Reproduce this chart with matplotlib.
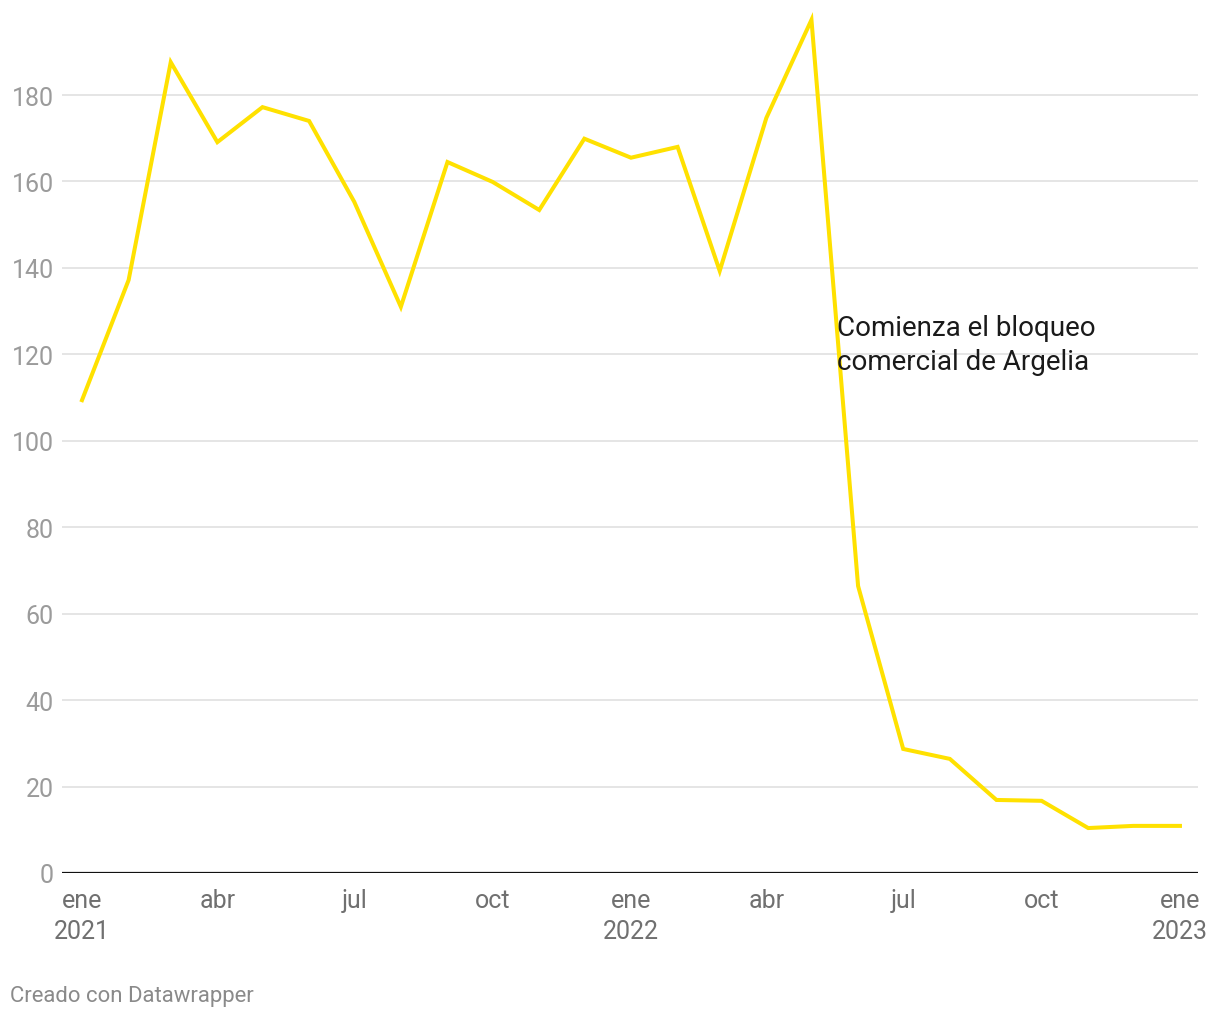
import numpy as np
import pandas as pd
import matplotlib
matplotlib.use("Agg")
import matplotlib.pyplot as plt

plt.rcParams['font.family'] = ['Roboto', 'DejaVu Sans']

# monthly values, ene 2021 - ene 2023
months = pd.date_range("2021-01-01", "2023-01-01", freq="MS")
values = [109.4, 137.2, 187.6, 169.1, 177.2, 174.0, 155.3, 131.0, 164.5,
          159.9, 153.4, 169.9, 165.5, 168.0, 139.3, 174.7, 197.4, 66.4,
          28.7, 26.4, 16.9, 16.7, 10.4, 10.9, 10.9]

tick_dates = pd.date_range("2021-01-01", "2023-01-01", freq="3MS")
tick_labels = ["ene\n2021", "abr", "jul", "oct", "ene\n2022", "abr", "jul", "oct", "ene\n2023"]
y_ticks = [0, 20, 40, 60, 80, 100, 120, 140, 160, 180]

note = "Comienza el bloqueo\ncomercial de Argelia"
note_date = pd.Timestamp("2022-05-18")
note_y = 122.3

W, H = 1220, 1020
fig = plt.figure(figsize=(W / 100, H / 100), dpi=100)
ax = fig.add_axes([62 / W, (H - 874) / H, (1198 - 62) / W, (874 - 20.4) / H])

ax.plot(months, values, color="#ffe100", linewidth=2.9, solid_joinstyle="miter",
        zorder=3, clip_on=False)

ax.set_ylim(0, 197.5)
ax.set_xlim(pd.Timestamp("2021-01-01") - pd.Timedelta(days=13.3),
            pd.Timestamp("2023-01-01") + pd.Timedelta(days=12))

ax.set_yticks(y_ticks)
ax.set_yticklabels([str(v) for v in y_ticks])
ax.set_xticks(tick_dates)
ax.set_xticklabels(tick_labels)

ax.grid(axis="y", color="#e3e3e3", linewidth=1.3, zorder=0)
ax.axhline(0, color="#111111", linewidth=1.6, zorder=4)

for s in ax.spines.values():
    s.set_visible(False)
ax.tick_params(axis="y", length=0, pad=6, labelsize=18, labelcolor="#9b9b9b")
ax.tick_params(axis="x", length=0, pad=11, labelsize=18, labelcolor="#707070")
for lbl in ax.get_xticklabels():
    lbl.set_linespacing(1.35)

ax.text(note_date, note_y, note, fontsize=20, color="#1a1a1a",
        va="center", ha="left", linespacing=1.3, zorder=5)

fig.text(10 / W, 1 - 997 / H, "Creado con Datawrapper", fontsize=15.9,
         color="#8a8a8a", va="center", ha="left")

fig.savefig("out.png", dpi=100, facecolor="white")
